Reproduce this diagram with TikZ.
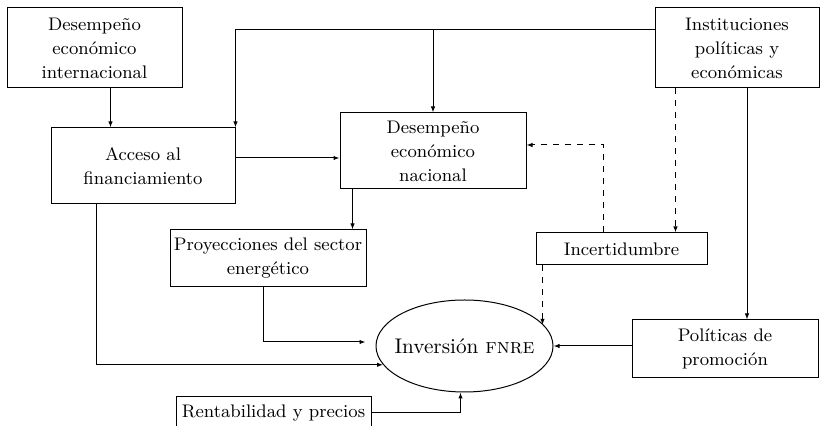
\documentclass[tikz,border=0pt]{standalone}
\usepackage{tikz}
\usetikzlibrary{arrows.meta,shapes.geometric}
\tikzset{
  caja/.style={draw, align=center, inner sep=1pt, font=\fontsize{9.1}{12}\selectfont},
  elipse/.style={draw, ellipse, inner ysep=0pt, inner xsep=-4pt, font=\fontsize{10.6}{13}\selectfont},
  flecha/.style={-{Latex[length=3pt,width=2.2pt]}},
}

\begin{document}
\begin{tikzpicture}[x=0.5pt,y=-0.5pt,line width=0.5pt]
		\useasboundingbox (0,0) rectangle (820,426);
		\node[caja,minimum width=87.5pt,minimum height=40pt] (dei) at (94.5,48) {Desempeño\\económico\\internacional};
		\node[caja,minimum width=92pt,minimum height=38pt] (acc) at (143,166) {Acceso al\\financiamiento};
		\node[caja,minimum width=93pt,minimum height=38pt] (den) at (433,151) {Desempeño\\económico\\nacional};
		\node[caja,minimum width=82pt,minimum height=40pt] (ins) at (737,48) {Instituciones\\políticas y\\económicas};
		\node[caja,minimum width=98pt,minimum height=28.5pt] (proy) at (268,258.5) {Proyecciones del sector\\energético};
		\node[caja,minimum width=85.5pt,minimum height=16pt] (inc) at (621.5,249) {Incertidumbre};
		\node[elipse,minimum width=88.5pt,minimum height=46pt] (inv) at (464.5,346) {Inversión \textsc{fnre}};
		\node[caja,minimum width=93pt,minimum height=29pt] (pol) at (725,349) {Políticas de\\promoción};
		\node[caja,minimum width=97.5pt,minimum height=16pt] (ren) at (273.5,413) {Rentabilidad y precios};
		\coordinate (top) at ([yshift=-11pt]ins.north west);

		\begin{scope}[flecha]
			\draw ([xshift=8pt]dei.south) -- ([xshift=8pt]dei.south |- acc.north);
			\draw (top) -| (acc.north east);
			\draw (top -| den.north) -- (den.north);
			\draw ([yshift=4pt]acc.east) -- ([yshift=4pt]acc.east -| den.west);
			\draw ([xshift=6.5pt]den.south west) -- ([xshift=6.5pt]den.south west |- proy.north);
			\draw ([xshift=5pt]ins.south) -- ([xshift=5pt]ins.south |- pol.north);
			\draw (pol.west |- inv.east) -- (inv.east);
			\draw ([xshift=-2.5pt]proy.south) |- ([shift={(-5pt,2pt)}]inv.west);
			\draw ([xshift=23pt]acc.south west) |- (inv.193);
			\draw (ren.east) -| ([xshift=-2pt]inv.south);
		\end{scope}
		\begin{scope}[flecha,dashed]
			\draw ([xshift=-9pt]inc.north) |- ([yshift=3pt]den.east);
			\draw ([xshift=10.5pt]ins.south west) -- ([xshift=10.5pt]ins.south west |- inc.north);
			\draw ([xshift=3.5pt]inc.south west) -- ([xshift=3.5pt]inc.south west |- inv.15);
		\end{scope}
	\end{tikzpicture}
\end{document}
